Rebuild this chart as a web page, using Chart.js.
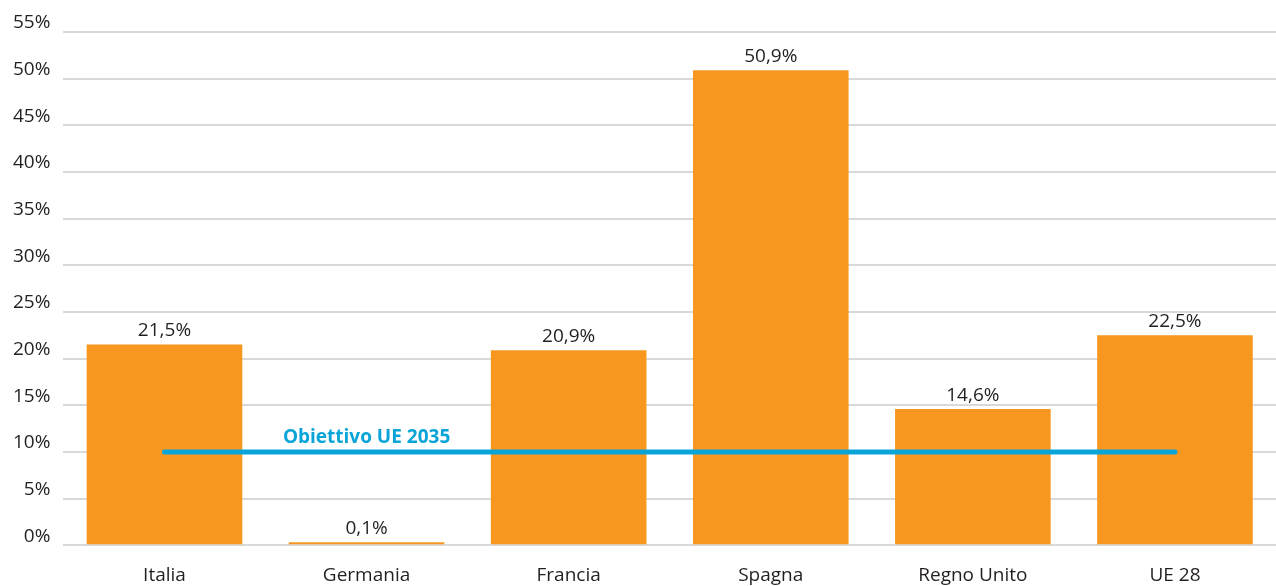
<!DOCTYPE html>
<html>
<head>
<meta charset="utf-8">
<script src="https://cdn.jsdelivr.net/npm/chart.js@4"></script>
<style>
  html, body { margin: 0; padding: 0; background: #fff; }
  #wrap { width: 1276px; height: 586px; position: relative; }
</style>
</head>
<body>
<div id="wrap"><canvas id="chart"></canvas></div>
<script>
// ─── DATA ─────────────────────────────────────────────────────
const countries = ['Italia', 'Germania', 'Francia', 'Spagna', 'Regno Unito', 'UE 28'];
const shareValues = [21.5, 0.1, 20.9, 50.9, 14.6, 22.5];
const targetValues = [10, 10, 10, 10, 10, 10];
const targetLabel = 'Obiettivo UE 2035';

const FONT = '"Open Sans", Lato, sans-serif';
const fmt = v => v.toFixed(1).replace('.', ',') + '%';

// value labels above bars + target caption
const labelsPlugin = {
  id: 'labels',
  afterDatasetsDraw(chart) {
    const ctx = chart.ctx;
    const meta = chart.getDatasetMeta(1);
    ctx.save();
    ctx.font = '19px ' + FONT;
    ctx.fillStyle = '#231f20';
    ctx.textAlign = 'center';
    ctx.textBaseline = 'bottom';
    meta.data.forEach((bar, i) => {
      ctx.fillText(fmt(shareValues[i]), bar.x, bar.y - 4);
    });
    const xs = chart.scales.x, ys = chart.scales.y;
    ctx.font = 'bold 19px ' + FONT;
    ctx.fillStyle = '#0aa5d8';
    ctx.fillText(targetLabel, xs.getPixelForValue(1), ys.getPixelForValue(10) - 5);
    ctx.restore();
  }
};

new Chart(document.getElementById('chart'), {
  type: 'bar',
  data: {
    labels: countries,
    datasets: [
      {
        type: 'line',
        label: targetLabel,
        data: targetValues,
        borderColor: '#0aa5d8',
        borderWidth: 5,
        borderCapStyle: 'round',
        pointRadius: 0,
        fill: false,
        order: 0
      },
      {
        label: 'Quota',
        data: shareValues,
        backgroundColor: '#f7971f',
        barPercentage: 0.77,
        categoryPercentage: 1,
        minBarLength: 3,
        order: 1
      }
    ]
  },
  plugins: [labelsPlugin],
  options: {
    responsive: true, maintainAspectRatio: false, animation: false,
    layout: { padding: { top: 32, right: 0, bottom: -12, left: 0 } },
    plugins: { legend: { display: false }, tooltip: { enabled: false } },
    scales: {
      x: {
        grid: { display: false },
        border: { display: false },
        ticks: { font: { family: FONT, size: 19 }, color: '#231f20', padding: 11, maxRotation: 0 }
      },
      y: {
        min: 0, max: 55,
        grid: { color: '#d9d9d9', lineWidth: 2, drawTicks: false },
        border: { display: false },
        ticks: {
          stepSize: 5, padding: 13, labelOffset: -9,
          font: { family: FONT, size: 19 }, color: '#231f20',
          callback: v => v + '%'
        }
      }
    }
  }
});
</script>
</body>
</html>
